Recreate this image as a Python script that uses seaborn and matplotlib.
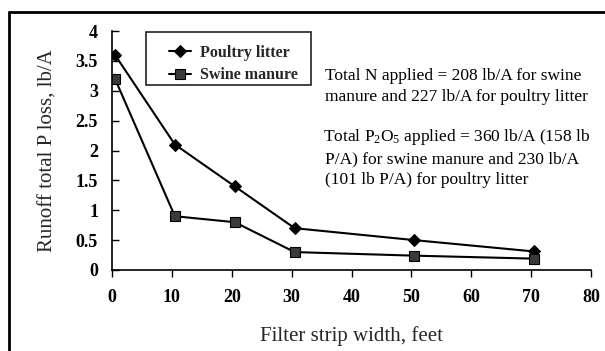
import matplotlib
matplotlib.use("Agg")
import matplotlib.pyplot as plt
from matplotlib.lines import Line2D
from matplotlib.patches import Rectangle
import seaborn as sns
import pandas as pd

# Filter strip widths (feet) and runoff total P loss (lb/A)
width_ft = [0.5, 10.5, 20.5, 30.5, 50.5, 70.5]
poultry_litter = [3.6, 2.1, 1.4, 0.7, 0.5, 0.31]
swine_manure = [3.2, 0.9, 0.8, 0.3, 0.24, 0.19]
x_ticks = [0, 10, 20, 30, 40, 50, 60, 70, 80]
y_ticks = [0, 0.5, 1, 1.5, 2, 2.5, 3, 3.5, 4]
y_tick_labels = ["0", "0.5", "1", "1.5", "2", "2.5", "3", "3.5", "4"]

df = pd.DataFrame({"width": width_ft,
                   "Poultry litter": poultry_litter,
                   "Swine manure": swine_manure})

sns.set_theme(style="white")
plt.rcParams["font.family"] = ["Liberation Serif", "DejaVu Serif"]
plt.rcParams["mathtext.default"] = "regular"

W, H = 605, 351
fig = plt.figure(figsize=(W / 100, H / 100), dpi=100)
fig.patch.set_facecolor("white")
ax = fig.add_axes([112 / W, 1 - 270 / H, (591 - 112) / W, (270 - 31) / H])
ax.set_facecolor("white")

sns.lineplot(data=df, x="width", y="Poultry litter", ax=ax, color="black",
             marker="D", markersize=6, markerfacecolor="black",
             markeredgecolor="black", linewidth=1.5, label="Poultry litter")
sns.lineplot(data=df, x="width", y="Swine manure", ax=ax, color="black",
             marker="s", markersize=7, markerfacecolor="#3a3a3a",
             markeredgecolor="black", markeredgewidth=0.8, linewidth=1.5,
             label="Swine manure")

ax.set_xlim(0, 80)
ax.set_ylim(0, 4)
ax.set_xticks(x_ticks)
ax.set_xticklabels([str(t) for t in x_ticks], fontweight="bold", fontsize=13)
ax.set_yticks(y_ticks)
ax.set_yticklabels(y_tick_labels, fontweight="bold", fontsize=13)
ax.tick_params(axis="x", direction="out", length=5, width=1, pad=9,
               colors="black", bottom=True)
ax.tick_params(axis="y", direction="in", length=5, width=1, pad=10,
               colors="black", left=True)

for side in ("top", "right"):
    ax.spines[side].set_visible(False)
for side in ("left", "bottom"):
    ax.spines[side].set_color("black")
    ax.spines[side].set_linewidth(1.2)

ax.set_xlabel("Filter strip width, feet", fontsize=15, labelpad=14)
ax.set_ylabel("Runoff total P loss, lb/A", fontsize=15, labelpad=13)

# Legend drawn without its own frame; a plain box goes around it
leg = ax.legend(loc="upper left",
                bbox_to_anchor=((168 - 112 - 3) / 479, 1.0 - 10 / 239),
                frameon=False, borderpad=0.25, borderaxespad=0,
                handlelength=1.35, handletextpad=0.6, labelspacing=0.4,
                prop={"weight": "bold", "size": 11.5})
fig.add_artist(Rectangle((146 / W, 1 - 85 / H), (311 - 146) / W, 53 / H,
                         transform=fig.transFigure, fill=False,
                         edgecolor="#222222", linewidth=1.2))

note_kw = dict(transform=ax.transAxes, fontsize=12.5, ha="left", va="center",
               color="black")
lines = [
    (325, 76, "Total N applied = 208 lb/A for swine"),
    (325, 97, "manure and 227 lb/A for poultry litter"),
    (323, 137, "Total P$_2$O$_5$ applied = 360 lb/A (158 lb"),
    (325, 159, "P/A) for swine manure and 230 lb/A"),
    (325, 180, "(101 lb P/A) for poultry litter"),
]
for xpix, ypix, txt in lines:
    ax.text((xpix - 112) / 479, (270 - ypix) / 239, txt, **note_kw)

# Outer frame around the figure
fig.add_artist(Line2D([8.5 / W, 8.5 / W], [0, 1 - 12 / H], color="black",
                      linewidth=2, transform=fig.transFigure))
fig.add_artist(Line2D([8.5 / W, 1], [1 - 12 / H, 1 - 12 / H], color="black",
                      linewidth=2, transform=fig.transFigure))

fig.savefig("out.png", dpi=100)
